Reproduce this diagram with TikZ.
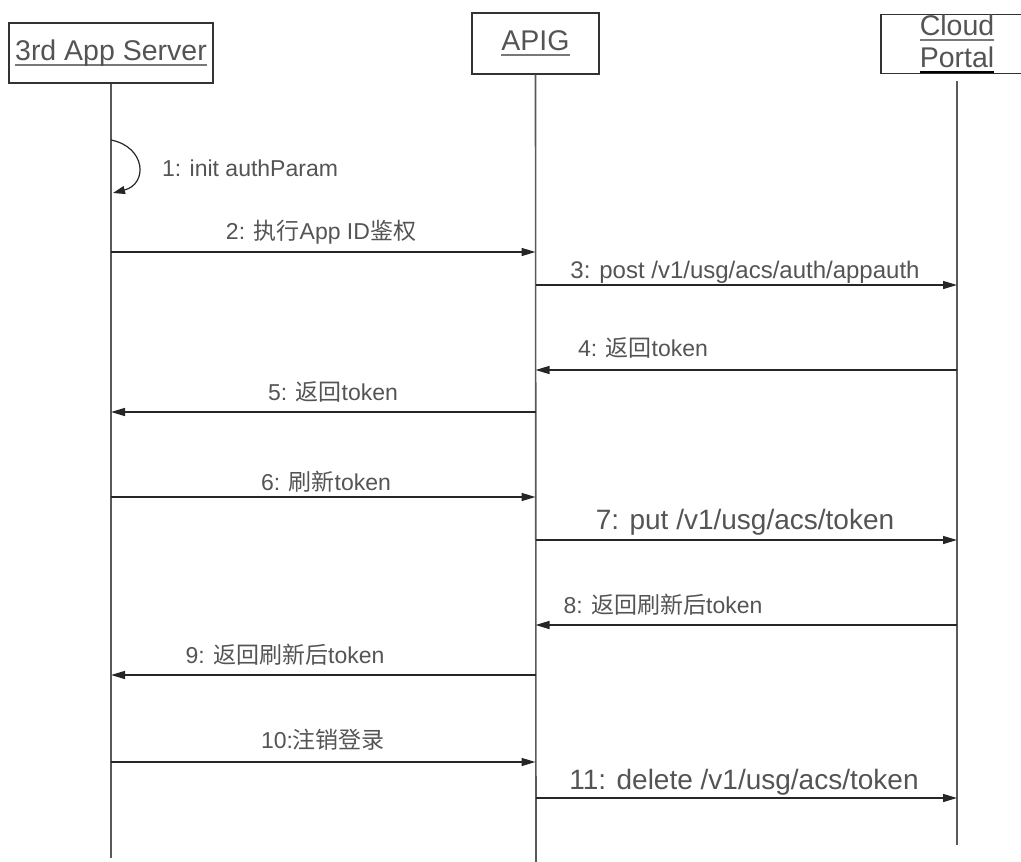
\documentclass[tikz,border=0pt]{standalone}
\usepackage{fontspec}
\setmainfont{Liberation Sans}
\newfontfamily\cjk{Noto Sans CJK SC}
\usetikzlibrary{arrows.meta,calc}
\definecolor{BoxClr}{rgb}{0.2,0.2,0.2}
\definecolor{LifeClr}{rgb}{0.35,0.35,0.35}
\definecolor{MsgClr}{rgb}{0.15,0.15,0.15}
\definecolor{TxtClr}{rgb}{0.33,0.33,0.33}
\definecolor{UlClr}{rgb}{0.47,0.47,0.47}

\newcommand\ulWord[2][UlClr]{\setbox0\hbox{#2}\rlap{\color{#1}\rule[-6pt]{\wd0}{2.5pt}}\box0}

\tikzset{
  hdrbox/.style={draw=BoxClr,line width=1.3pt,inner sep=0pt,text=TxtClr,
    font=\fontsize{28.5}{33}\selectfont},
  lifeline/.style={draw=LifeClr,line width=1.6pt},
  msg/.style={draw=MsgClr,line width=1.4pt,-{Triangle[length=14pt,width=8pt]}},
  lbl/.style={text=TxtClr,inner sep=0pt,font=\fontsize{23}{27}\selectfont},
  lblbig/.style={lbl,font=\fontsize{28}{32}\selectfont}
}

\begin{document}
\begin{tikzpicture}[x=1pt,y=-1pt]
\useasboundingbox (0,0) rectangle (1021,862);
\clip (0,0) rectangle (1021,862);

% heads
\node[hdrbox,minimum width=204pt,minimum height=60pt] (srv) at (111,53) {\ulWord{3rd App Server}};
\node[hdrbox,minimum width=127pt,minimum height=61pt] (apig) at (535.5,43.5) {\ulWord{APIG}};
\node[hdrbox,minimum width=152pt,minimum height=58pt,align=center] (cloud) at (957,44)
  {\ulWord{Cloud}\\[-1pt]\ulWord[black]{Portal}};

% lifelines
\coordinate (srvEnd) at (111,858);
\coordinate (apigEnd) at (536,862);
\coordinate (cloudEnd) at (957,845);
\draw[lifeline] (srv.south) -- (srvEnd);
\draw[lifeline] (apig.south) -- (apigEnd);
\draw[lifeline,shorten <=7pt] (cloud.south) -- (cloudEnd);

% message points on the lifelines
\foreach \n/\y in {2/252,3/285,4/370,5/412,6/497,7/540,8/625,9/675,10/762,11/798}{
  \coordinate (S\n) at (srv.south |- 0,\y);
  \coordinate (A\n) at (apig.south |- 0,\y);
  \coordinate (C\n) at (cloudEnd |- 0,\y);
}

% self call
\coordinate (S1a) at (111,140);
\coordinate (S1b) at (113,193);
\draw[draw=MsgClr,line width=1.2pt,-{Triangle[length=12pt,width=8pt]}]
  (S1a) .. controls (146,147) and (148,184) .. (S1b);
\node[lbl] (L1) at (250,168) {1: init authParam};

% messages
\draw[msg] (S2) -- (A2);
\node[lbl] (L2) at (321,232) {2: {\cjk 执行}App ID{\cjk 鉴权}};
\draw[msg] (A3) -- (C3);
\node[lbl,font=\fontsize{24}{28}\selectfont] (L3) at (745,272) {3: post /v1/usg/acs/auth/appauth};
\draw[msg] (C4) -- (A4);
\node[lbl] (L4) at (643,348) {4: {\cjk 返回}token};
\draw[msg] (A5) -- (S5);
\node[lbl] (L5) at (333,392) {5: {\cjk 返回}token};
\draw[msg] (S6) -- (A6);
\node[lbl] (L6) at (326,482) {6: {\cjk 刷新}token};
\draw[msg] (A7) -- (C7);
\node[lblbig] (L7) at (745,522) {7: put /v1/usg/acs/token};
\draw[msg] (C8) -- (A8);
\node[lbl] (L8) at (663,605) {8: {\cjk 返回刷新后}token};
\draw[msg] (A9) -- (S9);
\node[lbl] (L9) at (285,655) {9: {\cjk 返回刷新后}token};
\draw[msg] (S10) -- (A10);
\node[lbl] (L10) at (323,740) {10:{\cjk 注销登录}};
\draw[msg] (A11) -- (C11);
\node[lblbig] (L11) at (744,782) {11: delete /v1/usg/acs/token};

\end{tikzpicture}
\end{document}
